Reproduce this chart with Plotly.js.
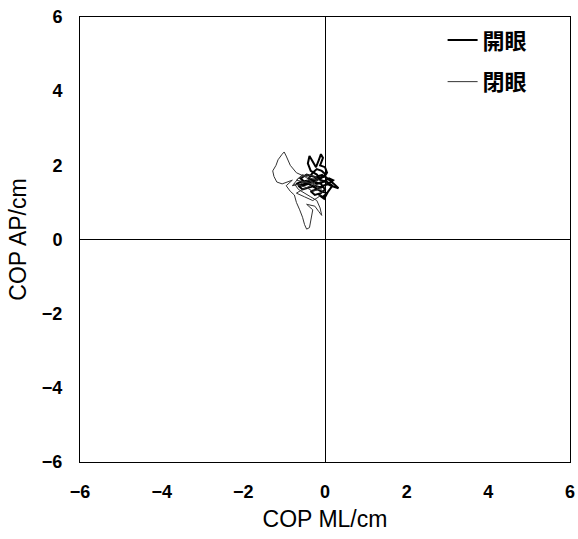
<!DOCTYPE html>
<html><head><meta charset="utf-8">
<script src="https://cdn.plot.ly/plotly-3.0.1.min.js"></script>
<style>body{margin:0;background:#fff}#c{width:578px;height:539px}</style>
</head><body><div id="c"></div>
<script>
const openX = [-0.1,-0.2,-0.35,-0.42,-0.38,-0.3,-0.22,-0.15,-0.1,-0.05,-0.12,0.0,0.05,-0.05,-0.2,-0.35,-0.5,-0.65,-0.55,-0.4,-0.25,-0.1,0.05,0.15,0.25,0.33,0.22,0.1,0.0,-0.15,-0.3,-0.45,-0.6,-0.5,-0.35,-0.2,-0.05,0.1,0.2,0.1,-0.05,-0.2,-0.35,-0.25,-0.1,0.0,-0.1,-0.25,-0.4,-0.3,-0.2,-0.08,0.02,-0.1,-0.28,-0.45,-0.6,-0.7,-0.55,-0.4,-0.25,-0.1,0.05,-0.05,-0.15,-0.02,0.08,0.18,0.05,-0.1,-0.2,-0.05];
const openY = [1.6,1.75,1.85,2.05,2.25,2.1,1.95,2.15,2.3,2.2,2.0,1.95,1.8,1.7,1.6,1.55,1.5,1.45,1.35,1.4,1.45,1.4,1.5,1.45,1.4,1.38,1.5,1.6,1.7,1.65,1.7,1.75,1.65,1.55,1.6,1.5,1.55,1.65,1.6,1.5,1.45,1.35,1.3,1.2,1.25,1.35,1.5,1.55,1.65,1.8,1.9,1.85,1.75,1.65,1.62,1.58,1.55,1.5,1.45,1.5,1.4,1.3,1.25,1.15,1.2,1.1,1.3,1.45,1.55,1.6,1.7,1.75];
const closedX = [-0.3,-0.5,-0.7,-0.85,-0.95,-1.0,-1.05,-1.15,-1.2,-1.28,-1.25,-1.18,-1.05,-0.9,-0.8,-0.95,-0.85,-0.75,-0.7,-0.62,-0.55,-0.5,-0.45,-0.38,-0.35,-0.3,-0.45,-0.25,-0.15,-0.08,-0.12,-0.2,-0.35,-0.5,-0.65,-0.75,-0.6,-0.45,-0.3,-0.15,-0.3,-0.5,-0.7,-0.55,-0.35,-0.2,-0.35,-0.55,-0.7,-0.5,-0.3,-0.15,-0.05,-0.2,-0.4,-0.6,-0.8,-0.65,-0.45,-0.25,-0.1];
const closedY = [1.55,1.7,1.8,2.0,2.25,2.36,2.3,2.15,2.0,1.85,1.7,1.55,1.5,1.55,1.6,1.45,1.3,1.2,1.0,0.8,0.6,0.4,0.28,0.32,0.55,0.8,0.95,0.9,0.75,0.65,0.85,1.05,1.15,1.25,1.35,1.5,1.45,1.4,1.3,1.35,1.5,1.55,1.6,1.75,1.65,1.6,1.45,1.35,1.25,1.15,1.05,1.15,1.3,1.45,1.6,1.5,1.45,1.65,1.75,1.7,1.55];
const seriesNames = ['開眼', '閉眼'];
const tickVals = [-6,-4,-2,0,2,4,6];

const font = 'Liberation Sans, Arial, sans-serif';
const axisBase = {
  range: [-6, 6], tickvals: tickVals, showgrid: false,
  zeroline: true, zerolinecolor: '#000', zerolinewidth: 1,
  showline: true, mirror: true, linecolor: '#000', linewidth: 1,
  ticks: '', tickfont: {family: font, size: 18, color: '#000', weight: 'bold'},
};
const data = [
  {x: openX, y: openY, name: seriesNames[0], legendgroup: 'a', mode: 'lines', line: {color: '#000', width: 2}},
  {x: closedX, y: closedY, name: seriesNames[1], legendgroup: 'b', mode: 'lines', line: {color: '#333', width: 1}},
];
const layout = {
  width: 578, height: 539, paper_bgcolor: '#fff', plot_bgcolor: '#fff',
  margin: {l: 80, r: 8, t: 17, b: 77},
  font: {family: font, color: '#000'},
  xaxis: Object.assign({}, axisBase, {ticklabelstandoff: 13,
    title: {text: 'COP ML/cm', font: {family: font, size: 23, color: '#000'}, standoff: 10}}),
  yaxis: Object.assign({}, axisBase, {ticklabelstandoff: 13,
    title: {text: 'COP AP/cm', font: {family: font, size: 23, color: '#000'}, standoff: 8}}),
  showlegend: true,
  legend: {x: 0.74, y: 0.995, xanchor: 'left', yanchor: 'top', bgcolor: 'rgba(0,0,0,0)',
    font: {family: 'Noto Sans CJK JP, sans-serif', size: 22, color: '#000', weight: 'bold'},
    traceorder: 'grouped', tracegroupgap: 10, itemwidth: 30},
};
Plotly.newPlot('c', data, layout, {displayModeBar: false, staticPlot: true});
</script></body></html>
